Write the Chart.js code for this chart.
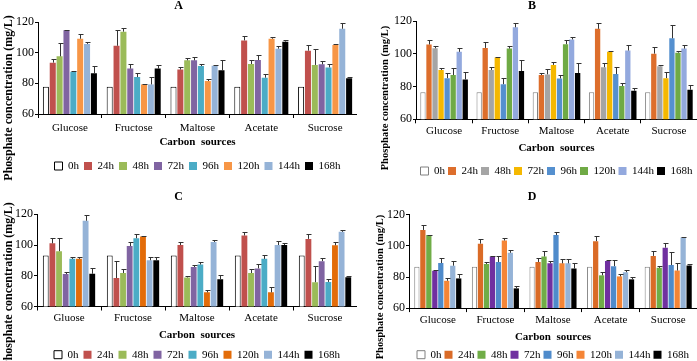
<!DOCTYPE html>
<html>
<head>
<meta charset="utf-8">
<script src="https://cdn.jsdelivr.net/npm/chart.js@4.4.1/dist/chart.umd.min.js"></script>
<style>
  html, body { margin: 0; padding: 0; background: #fff; overflow: hidden; }
  body { width: 697px; height: 361px; position: relative; }
  canvas { position: absolute; }
  .ytitle {
    position: absolute;
    transform: translate(-50%, -50%) rotate(-90deg);
    font-family: 'Liberation Serif', 'Times New Roman', serif;
    font-weight: bold;
    white-space: nowrap;
    color: #000;
  }
</style>
</head>
<body>
<canvas id="chartA" width="357" height="182" style="left:0;top:0"></canvas>
<canvas id="chartB" width="330" height="187" style="left:367px;top:0"></canvas>
<canvas id="chartC" width="357" height="191" style="left:0;top:180px"></canvas>
<canvas id="chartD" width="330" height="191" style="left:367px;top:180px"></canvas>
<div class="ytitle" style="left:8px;top:98px;font-size:12px">Phosphate concentration (mg/L)</div>
<div class="ytitle" style="left:384px;top:98px;font-size:10.5px">Phosphate concentration (mg/L)</div>
<div class="ytitle" style="left:8px;top:285px;font-size:12px">Phosphate concentration (mg/L)</div>
<div class="ytitle" style="left:379px;top:287px;font-size:10.5px">Phosphate concentration (mg/L)</div>
<script>
// categories and series
const hours = ['0h', '24h', '48h', '72h', '96h', '120h', '144h', '168h'];
const sources = ['Glucose', 'Fructose', 'Maltose', 'Acetate', 'Sucrose'];
const sourcesC = ['Gluose', 'Fructose', 'Maltose', 'Acetate', 'Sucrose'];
const yMin = 60, yMax = 120, yStep = 20;

// panel A: one row per sampling time (Glucose, Fructose, Maltose, Acetate, Sucrose)
const meansA = [
  [77.8, 77.8, 77.8, 77.8, 77.8],
  [93.5, 104.5, 89, 108, 101.3],
  [97.6, 113.7, 95, 92.6, 92],
  [114.6, 89.6, 95, 95.2, 92.4],
  [87.6, 84.1, 91.3, 83.7, 90.4],
  [109.1, 79.3, 81.5, 109.1, 105],
  [105.7, 79.3, 91.5, 102.6, 115.6],
  [86.5, 89.6, 88.5, 107.2, 83.3]
];
const errsA = [
  [0, 0, 0, 0, 0],
  [2.4, 10.5, 1.5, 2.6, 3.7],
  [8.5, 2.6, 1.5, 2.6, 10.4],
  [0.3, 2.8, 2, 3.3, 2],
  [0.3, 2.6, 1.1, 2.2, 2],
  [2.8, 0.4, 1.1, 1.1, 0.4],
  [1.3, 4.8, 0.6, 1.7, 3.7],
  [4.8, 2.2, 6.5, 1.1, 0.9]
];

// panel B
const meansB = [
  [76.5, 76.5, 76.5, 76.5, 76.5],
  [105.8, 103.7, 87.1, 115.4, 100.2],
  [103.5, 90.2, 87.5, 91.9, 92.5],
  [90.2, 97.9, 93.3, 101.3, 85.2],
  [85.2, 81.5, 85, 87.7, 109.6],
  [87.1, 103.3, 106, 80.4, 100.8],
  [101.3, 116.3, 108.9, 102.1, 103.3],
  [84.4, 89.6, 88.3, 77.5, 78.1]
];
const errsB = [
  [0, 0, 0, 0, 0],
  [2.9, 3.7, 1.5, 3.3, 3.8],
  [1.5, 1.7, 3, 2.5, 0.6],
  [1, 0.4, 1.7, 0.6, 3.5],
  [3.1, 3.5, 2.1, 4.4, 7.9],
  [4.2, 1.7, 2.7, 2.1, 1],
  [2.5, 2.5, 1.7, 3.5, 2.3],
  [4.4, 6.7, 6, 1.9, 2.7]
];

// panel C
const meansC = [
  [93.2, 93.2, 93.2, 93.2, 93.2],
  [101.1, 78.5, 100, 106.2, 104],
  [96, 81.8, 78.9, 81.8, 75.8],
  [81.1, 99.3, 85.7, 84.8, 89.5],
  [91, 104.4, 87.3, 91, 76],
  [91, 105.5, 69.2, 69.2, 99.8],
  [115.8, 90.1, 102, 100, 108.6],
  [81.3, 90.1, 77.8, 100, 79.1]
];
const errsC = [
  [0, 0, 0, 0, 0],
  [3.3, 11.2, 2.2, 2.4, 3.3],
  [8.8, 2.4, 0.7, 2.9, 10.3],
  [1.1, 2.6, 1.1, 2.6, 2],
  [0.9, 2.9, 1.5, 2.4, 2],
  [1.3, 0.4, 1.3, 3.7, 2.2],
  [4, 2.4, 1.3, 2.6, 1.3],
  [3.5, 2.4, 2.4, 1.3, 0.9]
];

// panel D
const meansD = [
  [86.6, 86.6, 86.6, 86.6, 86.6],
  [110.3, 101.5, 89.7, 103.1, 93.6],
  [107, 88.4, 93.2, 81.1, 85.9],
  [84, 93.2, 88.8, 90.3, 98.9],
  [89, 89.7, 107, 87, 87.7],
  [77.6, 103.5, 88.8, 80.4, 84.2],
  [87.3, 95.6, 88.8, 83.1, 105.5],
  [79.1, 72.7, 85.5, 78.5, 87.5]
];
const errsD = [
  [0, 0, 0, 0, 0],
  [2.9, 3.1, 2.4, 3.5, 3.1],
  [0.3, 1.5, 3.5, 2.4, 1.3],
  [0.3, 0.3, 1.3, 0.9, 3.3],
  [3.1, 3.7, 2, 4.2, 8.4],
  [2, 1.5, 2.6, 1.8, 4.6],
  [2.9, 1.5, 2.6, 1.5, 0.3],
  [3, 1.5, 3.3, 1.8, 0.7]
];

// colours per panel
const colorsA = ['#FFFFFF', '#C0504D', '#9BBB59', '#8064A2', '#4BACC6', '#F79646', '#95B3D7', '#000000'];
const colorsB = ['#FFFFFF', '#DD6E2C', '#A5A5A5', '#F5B800', '#5590CF', '#6FAA45', '#93A9DE', '#000000'];
const colorsC = ['#FFFFFF', '#C0504D', '#9BBB59', '#8064A2', '#4BACC6', '#E36C09', '#95B3D7', '#000000'];
const colorsD = ['#FFFFFF', '#DA6B27', '#70AD47', '#7030A0', '#4F8BCB', '#F58536', '#95B3D7', '#000000'];

const serif = "'Liberation Serif', 'Times New Roman', serif";
Chart.defaults.color = '#000';

// error bars (upper half only, like the original)
const errorBars = {
  id: 'errorBars',
  afterDatasetsDraw(chart) {
    const ctx = chart.ctx;
    const yScale = chart.scales.y;
    ctx.save();
    ctx.strokeStyle = '#333';
    ctx.lineWidth = 1;
    chart.data.datasets.forEach((ds, i) => {
      chart.getDatasetMeta(i).data.forEach((bar, j) => {
        const e = ds.errors[j];
        if (!e) return;
        const x = Math.round(bar.x) + 0.5;
        const yTop = Math.round(yScale.getPixelForValue(ds.data[j] + e)) + 0.5;
        ctx.beginPath();
        ctx.moveTo(x, bar.y);
        ctx.lineTo(x, yTop);
        ctx.moveTo(x - 2, yTop);
        ctx.lineTo(x + 3, yTop);
        ctx.stroke();
      });
    });
    ctx.restore();
  }
};

function makePanel(id, title, labels, means, errs, colors, zeroBorder, lay) {
  const datasets = hours.map((h, i) => ({
    label: h,
    data: means[i],
    errors: errs[i],
    backgroundColor: colors[i],
    borderColor: i === 0 ? zeroBorder : colors[i],
    borderWidth: i === 0 ? 1 : 0,
    categoryPercentage: lay.cat,
    barPercentage: 0.88
  }));

  new Chart(document.getElementById(id), {
    type: 'bar',
    data: { labels: labels, datasets: datasets },
    plugins: [errorBars],
    options: {
      responsive: false,
      animation: false,
      devicePixelRatio: 1,
      layout: { padding: { left: 0, right: 0, top: 0, bottom: lay.padBottom } },
      plugins: {
        title: {
          display: true,
          text: title,
          font: { family: serif, size: 12, weight: 'bold', lineHeight: 1 },
          padding: { top: lay.tTop, bottom: lay.tBottom }
        },
        legend: {
          position: 'bottom',
          fullSize: false,
          labels: { boxWidth: 8, boxHeight: 8, padding: lay.legPad, font: { family: serif, size: 11 } }
        },
        tooltip: { enabled: false }
      },
      scales: {
        x: {
          grid: { drawOnChartArea: false, tickLength: 4, color: '#000' },
          border: { color: '#000' },
          ticks: { font: { family: serif, size: 11 }, padding: lay.xPad, maxRotation: 0 },
          title: {
            display: true,
            text: 'Carbon  sources',
            font: { family: serif, size: 11, weight: 'bold' },
            padding: { top: 0, bottom: lay.csPad }
          },
          afterFit: s => { s.height = lay.xH; }
        },
        y: {
          min: yMin,
          max: yMax,
          ticks: { stepSize: yStep, font: { family: serif, size: 12 }, padding: 1 },
          grid: { drawOnChartArea: false, tickLength: 3, color: '#000' },
          border: { color: '#000' },
          afterFit: s => { s.width = lay.yW; }
        }
      }
    }
  });
}

makePanel('chartA', 'A', sources, meansA, errsA, colorsA, '#000',
  { tTop: 0, tBottom: 10, padBottom: 0.5, xH: 41.5, xPad: 3.1, csPad: 6.9, yW: 38, cat: 0.86, legPad: 5 });
makePanel('chartB', 'B', sources, meansB, errsB, colorsB, '#808080',
  { tTop: 0, tBottom: 9.3, padBottom: 0.5, xH: 43.2, xPad: 1.1, csPad: 7.9, yW: 49, cat: 0.86, legPad: 3 });
makePanel('chartC', 'C', sourcesC, meansC, errsC, colorsC, '#000',
  { tTop: 11, tBottom: 11.3, padBottom: 0.8, xH: 37.7, xPad: 1.2, csPad: 2.9, yW: 37, cat: 0.83, legPad: 5 });
makePanel('chartD', 'D', sources, meansD, errsD, colorsD, '#808080',
  { tTop: 11, tBottom: 11.9, padBottom: 0.8, xH: 38.1, xPad: 1.6, csPad: 2.3, yW: 42, cat: 0.83, legPad: 3 });
</script>
</body>
</html>
